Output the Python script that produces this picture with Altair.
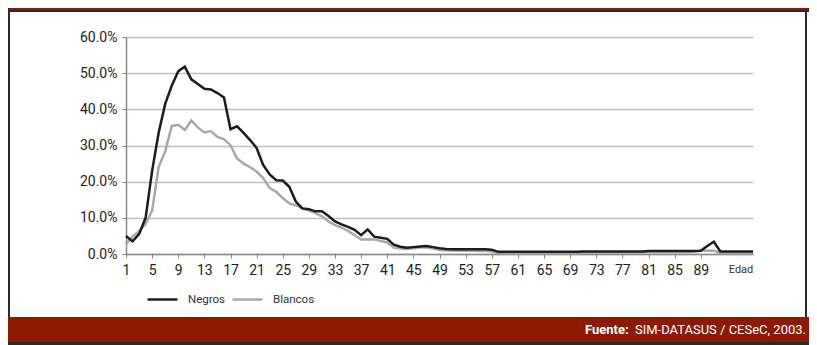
import altair as alt
import pandas as pd

edad = list(range(1, 98))
negros = [5.0, 3.5, 5.5, 10.0, 23.0, 33.5, 41.5, 46.5, 50.5, 51.8,
          48.3, 47.0, 45.7, 45.5, 44.5, 43.3, 34.5, 35.3, 33.5, 31.5,
          29.3, 24.6, 22.0, 20.4, 20.3, 18.6, 14.5, 12.6, 12.4, 11.8,
          11.8, 10.5, 9.0, 8.2, 7.5, 6.7, 5.2, 6.8, 4.8, 4.5,
          4.2, 2.6, 2.0, 1.7, 1.9, 2.1, 2.2, 1.9, 1.6, 1.4,
          1.3, 1.3, 1.3, 1.3, 1.3, 1.3, 1.2, 0.6, 0.6, 0.6,
          0.6, 0.6, 0.6, 0.6, 0.6, 0.6, 0.6, 0.6, 0.6, 0.6,
          0.7, 0.7, 0.7, 0.7, 0.7, 0.7, 0.7, 0.7, 0.7, 0.7,
          0.8, 0.8, 0.8, 0.8, 0.8, 0.8, 0.8, 0.8, 0.9, 2.2,
          3.4, 0.7, 0.7, 0.7, 0.7, 0.7, 0.7]
blancos = [2.7, 4.8, 6.3, 8.3, 12.0, 24.1, 28.3, 35.4, 35.7, 34.3,
           36.9, 35.0, 33.6, 34.0, 32.4, 31.8, 30.1, 26.4, 25.0, 24.0,
           22.8, 21.0, 18.2, 17.2, 15.5, 14.0, 13.5, 12.6, 12.0, 11.3,
           10.4, 9.0, 8.0, 7.3, 6.4, 5.2, 4.0, 4.1, 4.0, 3.6,
           3.2, 1.8, 1.5, 1.4, 1.6, 1.8, 1.8, 1.5, 1.1, 1.0,
           1.0, 0.9, 0.9, 0.9, 0.8, 0.8, 0.7, 0.3, 0.3, 0.3,
           0.3, 0.3, 0.3, 0.3, 0.3, 0.3, 0.3, 0.3, 0.3, 0.3,
           0.4, 0.4, 0.4, 0.4, 0.4, 0.4, 0.4, 0.4, 0.4, 0.4,
           0.5, 0.5, 0.5, 0.5, 0.5, 0.5, 0.5, 0.7, 0.9, 1.0,
           0.9, 0.3, 0.3, 0.3, 0.3, 0.3, 0.3]
series_names = ["Negros", "Blancos"]
series_colors = ["#1c1c1c", "#a9a9a9"]
x_ticks = [1, 5, 9, 13, 17, 21, 25, 29, 33, 37, 41, 45, 49, 53, 57,
           61, 65, 69, 73, 77, 81, 85, 89]
y_ticks = [0, 10, 20, 30, 40, 50, 60]
source_bold = "Fuente:"
source_text = "SIM-DATASUS / CESeC, 2003."
x_title = "Edad"

FONT = "Roboto, Liberation Sans, sans-serif"
RED = "#8a1a02"
DARK = "#2a2a2a"

df = pd.DataFrame({
    "edad": edad * 2,
    "valor": negros + blancos,
    "serie": ["Negros"] * len(negros) + ["Blancos"] * len(blancos),
})

color = alt.Color(
    "serie:N",
    scale=alt.Scale(domain=series_names, range=series_colors),
    legend=alt.Legend(
        title=None, orient="none", legendX=20, legendY=246,
        direction="horizontal", symbolType="stroke", symbolSize=900,
        symbolStrokeWidth=2.5, labelFontSize=11.5, labelFont=FONT,
        labelColor="#333333", labelOffset=9, columnPadding=1, padding=0,
    ),
)

x = alt.X(
    "edad:Q",
    scale=alt.Scale(domain=[1, 97], nice=False, zero=False),
    axis=alt.Axis(
        title=None, values=x_ticks, grid=False, tickSize=4,
        domainColor="#8a8a8a", tickColor="#8a8a8a", domainWidth=1.5,
        labelFontSize=14, labelFont=FONT, labelColor="#222222",
        labelPadding=5, labelFlush=False,
    ),
)
y = alt.Y(
    "valor:Q",
    scale=alt.Scale(domain=[0, 60], nice=False),
    axis=alt.Axis(
        title=None, values=y_ticks, grid=True, gridColor="#c0c0c0",
        gridWidth=1.5, tickSize=4, domainColor="#8a8a8a", domainWidth=1.5,
        tickColor="#8a8a8a", labelFontSize=14, labelFont=FONT,
        labelColor="#222222", labelPadding=5,
        labelExpr="format(datum.value, '.1f') + '%'",
    ),
)

base = alt.Chart(df)
grey_line = base.transform_filter(alt.datum.serie == "Blancos").mark_line(
    strokeWidth=2.5).encode(x=x, y=y, color=color)
black_line = base.transform_filter(alt.datum.serie == "Negros").mark_line(
    strokeWidth=2.5).encode(x=x, y=y, color=color)

one = pd.DataFrame({"k": [0]})


def rect(x1, x2, y1, y2, fill):
    return alt.Chart(one).mark_rect(color=fill).encode(
        x=alt.value(x1), x2=alt.value(x2), y=alt.value(y1), y2=alt.value(y2))


top_bar = rect(-118, 683, -29, -27, RED)
top_line = rect(-118, 683, -27, -25, DARK)
left_line = rect(-118, -116, -29, 280, DARK)
right_line = rect(679, 681, -25, 280, DARK)
bottom_bar = rect(-118, 683, 280, 305, RED)
bottom_line = rect(-118, 683, 305, 308, DARK)

fuente_b = alt.Chart(one).mark_text(
    align="left", baseline="middle", font=FONT, fontSize=13,
    fontWeight="bold", color="white").encode(
    x=alt.value(459), y=alt.value(293), text=alt.value(source_bold))
fuente_t = alt.Chart(one).mark_text(
    align="right", baseline="middle", font=FONT, fontSize=13,
    color="white").encode(
    x=alt.value(680), y=alt.value(293), text=alt.value(source_text))
edad_t = alt.Chart(one).mark_text(
    align="center", baseline="middle", font=FONT, fontSize=11,
    color="#333333").encode(
    x=alt.value(615), y=alt.value(16 + 217), text=alt.value(x_title))

chart = alt.layer(
    grey_line, black_line, top_bar, top_line, left_line, right_line,
    bottom_bar, bottom_line, fuente_b, fuente_t, edad_t,
).properties(
    width=627, height=217,
    padding={"left": 118, "top": 29, "right": 56, "bottom": 91},
    autosize=alt.AutoSizeParams(type="none"),
    background="white",
).configure_view(stroke=None)

chart.save("out.html", embed_options={"renderer": "svg", "actions": False})
